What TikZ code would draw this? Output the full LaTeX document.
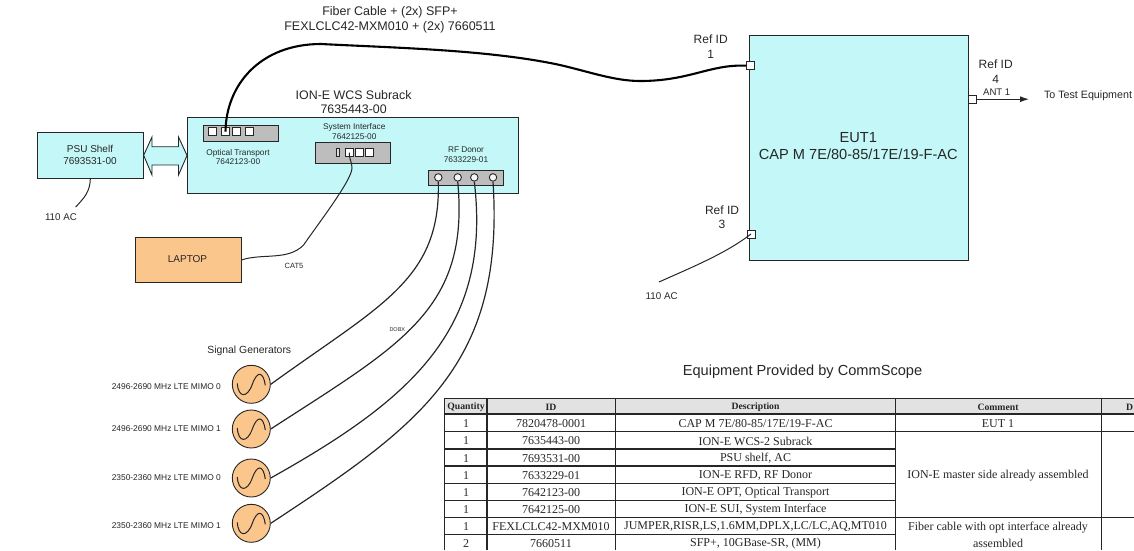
\documentclass[tikz,border=0pt]{standalone}
\usepackage{fontspec}
\setmainfont{Liberation Sans}
\newfontfamily\tblfont{Liberation Serif}
\usetikzlibrary{arrows.meta}
\definecolor{cyanbox}{HTML}{C4F8F8}
\definecolor{orangebox}{HTML}{FBC68C}
\definecolor{portgray}{HTML}{BDBDBD}
\definecolor{ink}{HTML}{262626}
\definecolor{hdrgray}{HTML}{E2E2E2}
\newcommand{\px}[1]{\fontsize{#1}{#1}\selectfont}
\tikzset{
  box/.style={draw=ink,line width=.9pt,inner sep=0pt,align=center,text=ink},
  cyanblock/.style={box,fill=cyanbox},
  orangeblock/.style={box,fill=orangebox},
  panel/.style={box,fill=portgray},
  sqport/.style={draw=ink,fill=white,line width=.9pt,minimum size=8pt,inner sep=0pt},
  rndport/.style={circle,draw=ink,fill=white!85!portgray,line width=.9pt,minimum size=7.5pt,inner sep=0pt},
  slotport/.style={draw=ink,fill=white!50!portgray,line width=.7pt,minimum width=2.5pt,minimum height=8pt,inner sep=0pt},
  gen/.style={circle,draw=ink,fill=orangebox,line width=.9pt,minimum size=38pt,inner sep=0pt},
  lbl/.style={inner sep=0pt,align=center,text=ink},
  cable/.style={draw=ink,line width=1.2pt},
  thincable/.style={draw=ink,line width=1pt},
  fiber/.style={draw=black,line width=2.1pt},
  grid/.style={draw=ink,line width=1.3pt},
  cell/.style={inner sep=0pt,align=center,text=ink,font=\tblfont\px{12}},
  hcell/.style={inner sep=0pt,align=center,text=ink,font=\tblfont\bfseries\px{9.7}},
}
\begin{document}
\begin{tikzpicture}[x=1pt,y=-1pt]
\useasboundingbox (0,0) rectangle (1134,550);
% blocks
\node[cyanblock,minimum width=105.7pt,minimum height=46pt] (psu) at (90.35,155.3) {};
\node[cyanblock,minimum width=330.7pt,minimum height=75.6pt] (subrack) at (352.85,155.5) {};
\node[panel,minimum width=75.4pt,minimum height=15.7pt] (opt) at (240.9,133.15) {};
\node[panel,minimum width=75.4pt,minimum height=20.7pt] (sys) at (352.7,152.65) {};
\node[panel,minimum width=74.6pt,minimum height=15.7pt] (rf) at (466,177.85) {};
\node[orangeblock,minimum width=105.3pt,minimum height=44.6pt] (laptop) at (188.35,260) {};
\node[cyanblock,minimum width=219pt,minimum height=224.7pt] (eut) at (858.8,147.65) {};
% ports
\node[sqport] (o1) at (212.4,131.7) {};
\node[sqport] (o2) at (225.5,131.7) {};
\node[sqport] (o3) at (236.7,131.7) {};
\node[sqport] (o4) at (249.3,131.7) {};
\node[slotport] (s0) at (337.7,152.7) {};
\node[sqport] (s1) at (349.3,152.7) {};
\node[sqport] (s2) at (359,152.7) {};
\node[sqport] (s3) at (369,152.7) {};
\node[rndport] (r1) at (438.3,177.4) {};
\node[rndport] (r2) at (457.7,177.4) {};
\node[rndport] (r3) at (474.3,177.4) {};
\node[rndport] (r4) at (493,177.4) {};
\node[sqport] (e1) at (750.7,65.7) {};
\node[sqport] (e3) at (751,234) {};
\node[sqport] (e4) at (972.5,99.2) {};
% power link (double block arrow between the shelf and the subrack)
\draw[draw=ink,fill=cyanbox,line width=.9pt,line join=miter]
  (psu.east) -- (152,137) -- (152,146.7) -- (178.5,146.7) -- (178.5,137) -- (subrack.west)
  -- (178.5,175) -- (178.5,165) -- (152,165) -- (152,175) -- cycle;
% generators
\node[gen] (g1) at (251.3,384.3) {};
\node[gen] (g2) at (251.3,429) {};
\node[gen] (g3) at (251.3,478) {};
\node[gen] (g4) at (251.3,523.3) {};
\foreach \g in {g1,g2,g3,g4}{
  \draw[draw=ink,line width=1pt,shift={(\g.center)}] (-14,-1) .. controls (-13,14) and (-4,14) .. (1,0) .. controls (6,-14) and (12,-13) .. (14,1);
}
% connectors
\coordinate (ac1) at (75.7,207);
\coordinate (ac3) at (659,282);
\coordinate (f1) at (321,44);
\coordinate (f2) at (560,65);
\coordinate (f3) at (640,81);
\coordinate (cat) at (303.6,245);
\coordinate (test) at (1029,99.2);
\draw[fiber] (o2.center) .. controls (226,85) and (260,44) .. (f1) .. controls (400,48) and (490,50) .. (f2) .. controls (590,72) and (615,81) .. (f3) .. controls (690,81) and (710,64) .. (e1.west);
\draw[thincable] (psu.south) .. controls (90,192) and (84,198) .. (ac1);
\draw[thincable] (laptop.east) .. controls (262,253) and (288,261) .. (cat) .. controls (318,224) and (352,180) .. (352,168) .. controls (352,162) and (349.3,160) .. (s1.center);
\draw[cable] (r1.south) .. controls (441,280) and (380,305) .. (g1.east);
\draw[cable] (r2.south) .. controls (470,310) and (400,345) .. (g2.east);
\draw[cable] (r3.south) .. controls (492,330) and (410,400) .. (g3.east);
\draw[cable] (r4.south) .. controls (505,365) and (420,425) .. (g4.east);
\draw[thincable] (ac3) .. controls (690,268) and (725,254) .. (e3.center);
\draw[thincable,-{Latex[length=9pt,width=6pt]}] (e4.east) -- (test);
% labels
\node[lbl,font=\px{12.5}] (tFiber) at (390,19.7) {Fiber Cable + (2x) SFP+\\[2.2pt]FEXLCLC42-MXM010 + (2x) 7660511};
\node[lbl,font=\px{12.4}] (tSub) at (353.6,102) {ION-E WCS Subrack\\[2.4pt]7635443-00};
\node[lbl,font=\px{8.3}] (tSys) at (354.3,131.3) {System Interface\\[1.2pt]7642125-00};
\node[lbl,font=\px{8.3}] (tOpt) at (238,157) {Optical Transport\\[1.6pt]7642123-00};
\node[lbl,font=\px{8.3}] (tRf) at (466,155) {RF Donor\\[1.6pt]7633229-01};
\node[lbl,font=\px{10}] (tPsu) at (90,154.7) {PSU Shelf\\[2pt]7693531-00};
\node[lbl,font=\px{9.8}] (tAc1) at (61,217) {110 AC};
\node[lbl,font=\px{10}] (tLap) at (187.5,259) {LAPTOP};
\node[lbl,font=\px{7.5}] (tCat) at (294,266) {CAT5};
\node[lbl,font=\px{5.5}] (tDob) at (397.3,329.3) {DOBX};
\node[lbl,font=\px{10.4}] (tSig) at (249.3,350.7) {Signal Generators};
\node[lbl,font=\px{8.4}] (tG1) at (166.3,386.7) {2496-2690 MHz LTE MIMO 0};
\node[lbl,font=\px{8.4}] (tG2) at (166.3,429) {2496-2690 MHz LTE MIMO 1};
\node[lbl,font=\px{8.4}] (tG3) at (166.3,477.3) {2350-2360 MHz LTE MIMO 0};
\node[lbl,font=\px{8.4}] (tG4) at (166.3,525.7) {2350-2360 MHz LTE MIMO 1};
\node[lbl,font=\px{14.6}] (tEut) at (858.3,146.3) {EUT1\\[2.5pt]CAP M 7E/80-85/17E/19-F-AC};
\node[lbl,font=\px{12}] (tR1) at (710.7,46.5) {Ref ID\\[3pt]1};
\node[lbl,font=\px{12}] (tR3) at (722,217.2) {Ref ID\\[2.5pt]3};
\node[lbl,font=\px{12}] (tR4) at (995.7,71.2) {Ref ID\\[3pt]4};
\node[lbl,font=\px{9.6}] (tAnt) at (996.7,92) {ANT 1};
\node[lbl,font=\px{10.7}] (tTest) at (1088,95.7) {To Test Equipment};
\node[lbl,font=\px{9.8}] (tAc3) at (661.7,295.7) {110 AC};
\node[lbl,font=\px{14.6}] (tEq) at (802.5,372) {Equipment Provided by CommScope};
% table
\fill[hdrgray] (444.8,398.3) rectangle (1134,414);
\foreach \yy in {398.3,414,431.7,517.7}{\draw[grid] (444.8,\yy) -- (1134,\yy);}
\foreach \yy in {449,466,483.3,500.7}{\draw[grid] (444.8,\yy) -- (895.6,\yy);}
\draw[grid] (444.8,534.3) -- (895.6,534.3);
\foreach \xx in {444.8,487,615.5,895.6,1101.3}{\draw[grid] (\xx,398.3) -- (\xx,550);}
\node[hcell] (hQ) at (466,407) {Quantity};
\node[hcell] (hI) at (551,407) {ID};
\node[hcell] (hDs) at (755.5,407) {Description};
\node[hcell] (hC) at (998,407) {Comment};
\node[hcell] (hD) at (1129.6,407) {D};
\node[cell] (a1) at (466,423.3) {1};
\node[cell] (a2) at (551,423.3) {7820478-0001};
\node[cell] (a3) at (755.5,423.3) {CAP M 7E/80-85/17E/19-F-AC};
\node[cell] (a4) at (998,423.3) {EUT 1};
\node[cell] (b1) at (466,441) {1};
\node[cell] (b2) at (551,441) {7635443-00};
\node[cell] (b3) at (755.5,441) {ION-E WCS-2 Subrack};
\node[cell] (c1) at (466,458.3) {1};
\node[cell] (c2) at (551,458.3) {7693531-00};
\node[cell] (c3) at (755.5,458.3) {PSU shelf, AC};
\node[cell] (d1) at (466,475.7) {1};
\node[cell] (d2) at (551,475.7) {7633229-01};
\node[cell] (d3) at (755.5,475.7) {ION-E RFD, RF Donor};
\node[cell] (d4) at (998,475.7) {ION-E master side already assembled};
\node[cell] (e1t) at (466,492.7) {1};
\node[cell] (e2t) at (551,492.7) {7642123-00};
\node[cell] (e3t) at (755.5,492.7) {ION-E OPT, Optical Transport};
\node[cell] (f1t) at (466,510) {1};
\node[cell] (f2t) at (551,510) {7642125-00};
\node[cell] (f3t) at (755.5,510) {ION-E SUI, System Interface};
\node[cell] (h1) at (466,526.7) {1};
\node[cell] (h2) at (551,526.7) {FEXLCLC42-MXM010};
\node[cell] (h3) at (755.5,526.7) {JUMPER,RISR,LS,1.6MM,DPLX,LC/LC,AQ,MT010};
\node[cell] (h4) at (998,535.3) {Fiber cable with opt interface already\\[5pt]assembled};
\node[cell] (i1) at (466,543.7) {2};
\node[cell] (i2) at (551,543.7) {7660511};
\node[cell] (i3) at (755.5,543.7) {SFP+, 10GBase-SR, (MM)};
\end{tikzpicture}
\end{document}
